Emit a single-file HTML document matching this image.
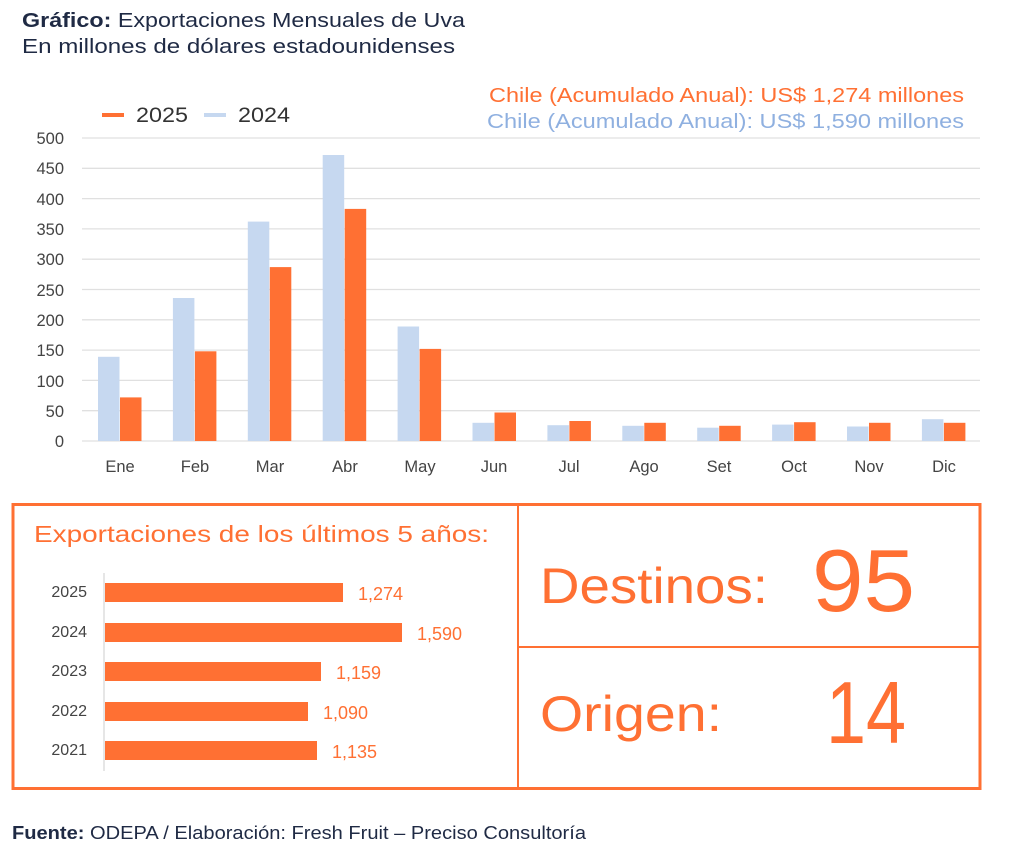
<!DOCTYPE html>
<html><head><meta charset="utf-8"><style>
html,body{margin:0;padding:0;background:#fff;}
svg{display:block;font-family:"Liberation Sans",sans-serif;}
</style></head><body>
<svg width="1024" height="859" viewBox="0 0 1024 859" xmlns="http://www.w3.org/2000/svg">
<text x="22" y="27" font-size="20" fill="#1f2a44" textLength="443" lengthAdjust="spacingAndGlyphs"><tspan font-weight="bold">Gráfico:</tspan> Exportaciones Mensuales de Uva</text>
<text x="22" y="53" font-size="20" fill="#1f2a44" textLength="433" lengthAdjust="spacingAndGlyphs">En millones de dólares estadounidenses</text>
<text x="489" y="102" font-size="20" fill="#ff7033" textLength="475" lengthAdjust="spacingAndGlyphs">Chile (Acumulado Anual): US$ 1,274 millones</text>
<text x="487" y="128" font-size="20" fill="#8fb0e0" textLength="477" lengthAdjust="spacingAndGlyphs">Chile (Acumulado Anual): US$ 1,590 millones</text>
<rect x="102" y="113" width="22" height="4" fill="#ff7033"/>
<text x="136" y="122" font-size="21" fill="#333" textLength="52" lengthAdjust="spacingAndGlyphs">2025</text>
<rect x="204" y="113" width="22" height="4" fill="#c6d8f0"/>
<text x="238" y="122" font-size="21" fill="#333" textLength="52" lengthAdjust="spacingAndGlyphs">2024</text>
<g stroke="#e0e0e0" stroke-width="1.3">
<line x1="82" x2="980" y1="138" y2="138"/><line x1="82" x2="980" y1="168.3" y2="168.3"/><line x1="82" x2="980" y1="198.6" y2="198.6"/><line x1="82" x2="980" y1="228.9" y2="228.9"/><line x1="82" x2="980" y1="259.2" y2="259.2"/><line x1="82" x2="980" y1="289.5" y2="289.5"/><line x1="82" x2="980" y1="319.8" y2="319.8"/><line x1="82" x2="980" y1="350.1" y2="350.1"/><line x1="82" x2="980" y1="380.4" y2="380.4"/><line x1="82" x2="980" y1="410.7" y2="410.7"/><line x1="82" x2="980" y1="441" y2="441"/>
</g>
<g font-size="16.5" fill="#444" text-anchor="end">
<text x="64" y="144">500</text><text x="64" y="174">450</text><text x="64" y="205">400</text><text x="64" y="235">350</text><text x="64" y="265">300</text><text x="64" y="296">250</text><text x="64" y="326">200</text><text x="64" y="356">150</text><text x="64" y="387">100</text><text x="64" y="417">50</text><text x="64" y="447">0</text>
</g>
<g fill="#c6d8f0">
<rect x="98" y="356.8" width="21.5" height="84.2"/><rect x="172.9" y="298" width="21.5" height="143"/><rect x="247.8" y="221.6" width="21.5" height="219.4"/><rect x="322.7" y="155" width="21.5" height="286"/><rect x="397.6" y="326.5" width="21.5" height="114.5"/><rect x="472.5" y="422.8" width="21.5" height="18.2"/><rect x="547.4" y="425.2" width="21.5" height="15.8"/><rect x="622.3" y="425.8" width="21.5" height="15.2"/><rect x="697.2" y="427.7" width="21.5" height="13.3"/><rect x="772.1" y="424.6" width="21.5" height="16.4"/><rect x="847" y="426.5" width="21.5" height="14.5"/><rect x="921.9" y="419.2" width="21.5" height="21.8"/>
</g>
<g fill="#ff7033">
<rect x="120" y="397.4" width="21.5" height="43.6"/><rect x="194.9" y="351.3" width="21.5" height="89.7"/><rect x="269.8" y="267.1" width="21.5" height="173.9"/><rect x="344.7" y="208.9" width="21.5" height="232.1"/><rect x="419.6" y="348.9" width="21.5" height="92.1"/><rect x="494.5" y="412.5" width="21.5" height="28.5"/><rect x="569.4" y="421" width="21.5" height="20"/><rect x="644.3" y="422.8" width="21.5" height="18.2"/><rect x="719.2" y="425.8" width="21.5" height="15.2"/><rect x="794.1" y="422.2" width="21.5" height="18.8"/><rect x="869" y="422.8" width="21.5" height="18.2"/><rect x="943.9" y="422.8" width="21.5" height="18.2"/>
</g>
<g font-size="16.5" fill="#444" text-anchor="middle">
<text x="120" y="472">Ene</text><text x="195" y="472">Feb</text><text x="270" y="472">Mar</text><text x="345" y="472">Abr</text><text x="420" y="472">May</text><text x="494" y="472">Jun</text><text x="569" y="472">Jul</text><text x="644" y="472">Ago</text><text x="719" y="472">Set</text><text x="794" y="472">Oct</text><text x="869" y="472">Nov</text><text x="944" y="472">Dic</text>
</g>
<rect x="13" y="504.5" width="967" height="284" fill="none" stroke="#ff7033" stroke-width="3"/>
<line x1="518" y1="504" x2="518" y2="789" stroke="#ff7033" stroke-width="2"/>
<line x1="518" y1="647" x2="980" y2="647" stroke="#ff7033" stroke-width="2"/>
<text x="34" y="542" font-size="23" fill="#ff7033" textLength="455" lengthAdjust="spacingAndGlyphs">Exportaciones de los últimos 5 años:</text>
<line x1="104" y1="573" x2="104" y2="771" stroke="#ddd" stroke-width="1.5"/>
<g fill="#ff7033">
<rect x="105" y="583" width="238" height="19"/><rect x="105" y="623" width="297" height="19"/><rect x="105" y="662" width="216" height="19"/><rect x="105" y="702" width="203" height="19"/><rect x="105" y="741" width="212" height="19"/>
</g>
<g font-size="16" fill="#444" text-anchor="end">
<text x="87" y="597">2025</text><text x="87" y="637">2024</text><text x="87" y="676">2023</text><text x="87" y="716">2022</text><text x="87" y="755">2021</text>
</g>
<g font-size="18" fill="#ff7033">
<text x="358" y="600">1,274</text><text x="417" y="640">1,590</text><text x="336" y="679">1,159</text><text x="323" y="719">1,090</text><text x="332" y="758">1,135</text>
</g>
<text x="540" y="603" font-size="50" fill="#ff7033" textLength="228" lengthAdjust="spacingAndGlyphs">Destinos:</text>
<text x="812" y="611" font-size="88" fill="#ff7033" textLength="103" lengthAdjust="spacingAndGlyphs">95</text>
<text x="540" y="731" font-size="50" fill="#ff7033" textLength="182" lengthAdjust="spacingAndGlyphs">Origen:</text>
<text x="826" y="743" font-size="88" fill="#ff7033" textLength="80" lengthAdjust="spacingAndGlyphs">14</text>
<text x="12" y="839" font-size="18" fill="#1f2a44" textLength="574" lengthAdjust="spacingAndGlyphs"><tspan font-weight="bold">Fuente:</tspan> ODEPA / Elaboración: Fresh Fruit – Preciso Consultoría</text>
</svg>
</body></html>
